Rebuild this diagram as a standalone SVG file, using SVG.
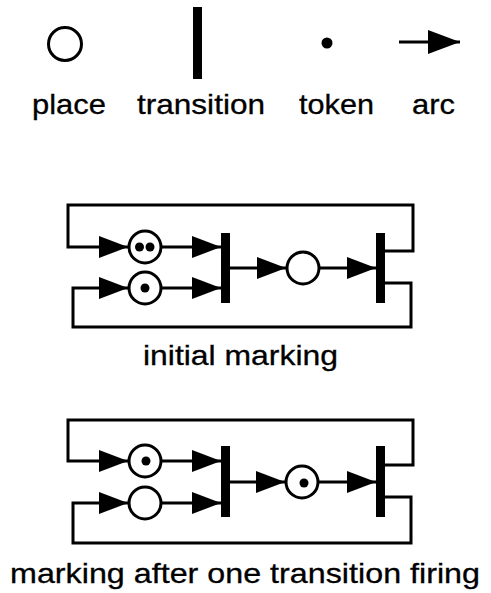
<svg xmlns="http://www.w3.org/2000/svg" width="491" height="593" viewBox="0 0 491 593">
<style>
.pl{fill:#fff;stroke:#000;stroke-width:3}
.tr{fill:#000}
.tk{fill:#000}
.ln{fill:none;stroke:#000;stroke-width:3}
.tx{font-family:"Liberation Sans",Arial,sans-serif;font-size:28px;fill:#000;stroke:#000;stroke-width:0.3;text-anchor:middle}
</style>
<defs>
<marker id="ah" viewBox="0 0 29 22" refX="29" refY="11" markerWidth="29" markerHeight="22" markerUnits="userSpaceOnUse" orient="auto">
<path d="M0,0 L29,11 L0,22 Z" fill="#000"/>
</marker>
<marker id="ahL" viewBox="0 0 32 24" refX="32" refY="12" markerWidth="32" markerHeight="24" markerUnits="userSpaceOnUse" orient="auto">
<path d="M0,0 L32,12 L0,24 Z" fill="#000"/>
</marker>
</defs>
<rect width="491" height="593" fill="#fff"/>

<g id="legend">
<g id="legend-place"><circle class="pl" cx="65" cy="44" r="16.5"/><text class="tx" x="69" y="114" textLength="74" lengthAdjust="spacingAndGlyphs">place</text></g>
<g id="legend-transition"><rect class="tr" x="193" y="7" width="9" height="72"/><text class="tx" x="201" y="114" textLength="128" lengthAdjust="spacingAndGlyphs">transition</text></g>
<g id="legend-token"><circle class="tk" cx="327" cy="43" r="5.5"/><text class="tx" x="336.5" y="114" textLength="75" lengthAdjust="spacingAndGlyphs">token</text></g>
<g id="legend-arc"><path class="ln" d="M399 42 H460" marker-end="url(#ahL)"/><text class="tx" x="433.5" y="114" textLength="43" lengthAdjust="spacingAndGlyphs">arc</text></g>
</g>

<g id="connectors">
<path class="ln" d="M385 251 H413 V205 H68 V247 H128" marker-end="url(#ah)"/>
<path class="ln" d="M385 283 H411 V327 H73 V288 H128" marker-end="url(#ah)"/>
<path class="ln" d="M161 247 H221" marker-end="url(#ah)"/>
<path class="ln" d="M161 288 H221" marker-end="url(#ah)"/>
<path class="ln" d="M230 268 H286" marker-end="url(#ah)"/>
<path class="ln" d="M319 268 H376" marker-end="url(#ah)"/>
<path class="ln" d="M385 465 H413 V420 H68 V461 H128" marker-end="url(#ah)"/>
<path class="ln" d="M385 497 H411 V543 H73 V503 H128" marker-end="url(#ah)"/>
<path class="ln" d="M161 461 H221" marker-end="url(#ah)"/>
<path class="ln" d="M161 503 H221" marker-end="url(#ah)"/>
<path class="ln" d="M230 482 H285" marker-end="url(#ah)"/>
<path class="ln" d="M318 482 H376" marker-end="url(#ah)"/>
</g>

<g id="net1">
<g id="n1-p1"><circle class="pl" cx="145" cy="247" r="16"/><circle class="tk" cx="139.5" cy="247" r="4.5"/><circle class="tk" cx="150" cy="247" r="4.5"/></g>
<g id="n1-p2"><circle class="pl" cx="145" cy="288" r="16"/><circle class="tk" cx="145" cy="288" r="4.5"/></g>
<g id="n1-p3"><circle class="pl" cx="303" cy="268" r="16"/></g>
<g id="n1-t1"><rect class="tr" x="221" y="233" width="9" height="70"/></g>
<g id="n1-t2"><rect class="tr" x="376" y="233" width="9" height="70"/></g>
<text class="tx" x="240.5" y="365" textLength="195" lengthAdjust="spacingAndGlyphs">initial marking</text>
</g>

<g id="net2">
<g id="n2-p1"><circle class="pl" cx="145" cy="461" r="16"/><circle class="tk" cx="146" cy="461" r="4.5"/></g>
<g id="n2-p2"><circle class="pl" cx="145" cy="503" r="16"/></g>
<g id="n2-p3"><circle class="pl" cx="302" cy="482" r="16"/><circle class="tk" cx="304" cy="483" r="4.5"/></g>
<g id="n2-t1"><rect class="tr" x="221" y="446" width="9" height="71"/></g>
<g id="n2-t2"><rect class="tr" x="376" y="446" width="9" height="71"/></g>
<text class="tx" x="245" y="583" textLength="470" lengthAdjust="spacingAndGlyphs">marking after one transition firing</text>
</g>
</svg>
